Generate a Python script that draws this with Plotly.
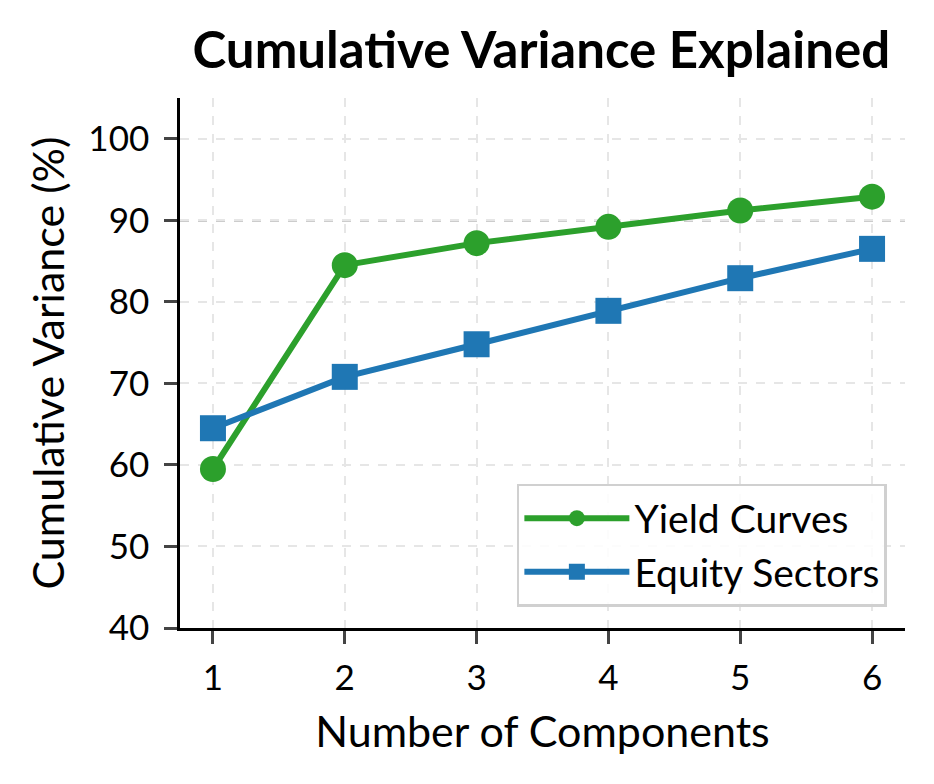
import plotly.graph_objects as go

components = [1, 2, 3, 4, 5, 6]
yield_curves = [59.5, 84.5, 87.2, 89.2, 91.2, 92.9]
equity_sectors = [64.5, 70.8, 74.8, 78.9, 82.9, 86.5]
threshold = 90
y_ticks = [40, 50, 60, 70, 80, 90, 100]

FONT = "Lato"

fig = go.Figure()
fig.add_trace(go.Scatter(
    x=components, y=yield_curves, name="Yield Curves", mode="lines+markers",
    line=dict(color="#2ca02c", width=6),
    marker=dict(symbol="circle", size=26, color="#2ca02c"),
))
fig.add_trace(go.Scatter(
    x=components, y=equity_sectors, name="Equity Sectors", mode="lines+markers",
    line=dict(color="#1f77b4", width=6),
    marker=dict(symbol="square", size=26, color="#1f77b4"),
))
fig.add_hline(y=threshold, line=dict(color="#999999", width=2.5, dash="dash"), layer="below")

fig.update_layout(
    width=934, height=784,
    margin=dict(l=172, r=37, t=90, b=164),
    paper_bgcolor="white", plot_bgcolor="white",
    font=dict(family=FONT, size=36, color="black"),
    title=dict(text="<b>Cumulative Variance Explained</b>", x=0.571, xanchor="center",
               y=0.946, yanchor="middle", font=dict(size=51, family=FONT)),
    xaxis=dict(
        range=[0.75, 6.25], tickvals=components, ticks="outside", ticklen=13, tickwidth=2.5,
        showline=True, linecolor="black", linewidth=2.5, mirror=False,
        showgrid=True, gridcolor="#e6e6e6", griddash="dash", gridwidth=2, zeroline=False,
        title=dict(text="Number of Components", font=dict(size=43), standoff=22),
        tickfont=dict(size=35), ticklabelstandoff=4,
    ),
    yaxis=dict(
        range=[40, 105], tickvals=y_ticks, ticks="outside", ticklen=13, tickwidth=2.5,
        showline=True, linecolor="black", linewidth=2.5,
        showgrid=True, gridcolor="#e6e6e6", griddash="dash", gridwidth=2, zeroline=False,
        title=dict(text="Cumulative Variance (%)", font=dict(size=43), standoff=11),
        tickfont=dict(size=35), ticklabelstandoff=8,
    ),
    legend=dict(
        x=0.975, y=0.04, xanchor="right", yanchor="bottom",
        bgcolor="rgba(255,255,255,0.85)", bordercolor="#d0d0d0", borderwidth=2.5,
        font=dict(size=39), itemwidth=105,
    ),
    showlegend=True,
)

fig.write_html("out.html")
